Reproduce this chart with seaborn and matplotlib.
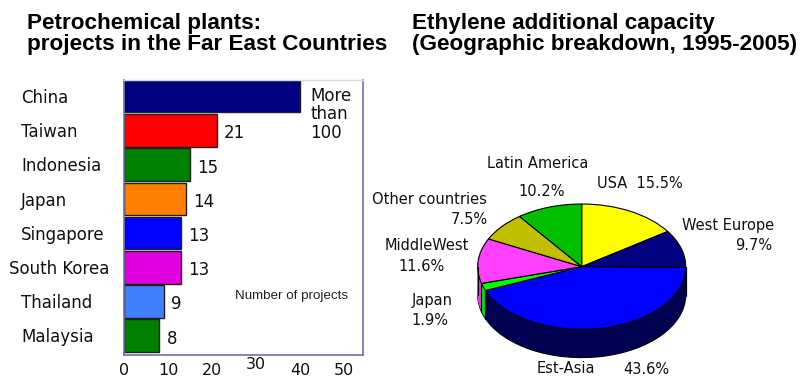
import numpy as np
import pandas as pd
import matplotlib
matplotlib.use("Agg")
import matplotlib.pyplot as plt
import matplotlib.transforms as mtransforms
import seaborn as sns

# ---- data: bar chart ----
countries = ["China", "Taiwan", "Indonesia", "Japan", "Singapore",
             "South Korea", "Thailand", "Malaysia"]
projects = [40, 21, 15, 14, 13, 13, 9, 8]          # China bar drawn at 40
project_labels = ["More\nthan\n100", "21", "15", "14", "13", "13", "9", "8"]
bar_colors = ["#000080", "#FF0000", "#008000", "#FF8000", "#0000FF",
              "#E000E0", "#4080FF", "#008000"]
x_ticks = [0, 10, 20, 30, 40, 50]

# ---- data: pie chart ----
regions = ["USA", "West Europe", "Est-Asia", "Japan", "MiddleWest",
           "Other countries", "Latin America"]
shares = [15.5, 9.7, 43.6, 1.9, 11.6, 7.5, 10.2]
pie_colors = ["#FFFF00", "#000080", "#0000FF", "#00FF00", "#FF40FF",
              "#C0C000", "#00C000"]
side_colors = ["#B0B000", "#000040", "#000050", "#00E000", "#F030F0",
               "#909000", "#009000"]

W, H = 802, 381
sns.set_theme(style="white")
plt.rcParams["font.family"] = ["DejaVu Sans"]
fig = plt.figure(figsize=(W / 100, H / 100), dpi=100)


def fx(px):
    return px / W


def fy(py):
    return 1 - py / H


# ---------------- bar chart ----------------
ax = fig.add_axes([fx(124.3), fy(355), (362.7 - 124.3) / W, 275 / H])
df = pd.DataFrame({"country": countries, "projects": projects})
sns.barplot(data=df, x="projects", y="country", hue="country",
            palette=bar_colors, legend=False, orient="h", width=0.95,
            edgecolor="#202020", linewidth=1.0, ax=ax, saturation=1)
ax.set_xlim(0, 54.2)
ax.set_ylim(7.565, -0.475)
ax.set_xlabel("")
ax.set_ylabel("")
ax.set_xticks(x_ticks)
ax.set_xticklabels([str(t) for t in x_ticks], fontsize=11.5, color="#111111")
ax.tick_params(axis="x", length=0, pad=5.5)
ax.set_yticks(range(len(countries)))
ax.set_yticklabels([])
ax.tick_params(axis="y", length=0)
xt = ax.xaxis.get_major_ticks()
xt[3].set_pad(1.5)
for side in ["left", "bottom", "right"]:
    ax.spines[side].set_color("#7070A8")
    ax.spines[side].set_linewidth(1.2)
ax.spines["top"].set_color("#D8D8D8")
ax.spines["top"].set_linewidth(1.0)

blend = mtransforms.blended_transform_factory(fig.transFigure, ax.transData)
for i, name in enumerate(countries):
    xpos = 9.3 if name == "South Korea" else 21
    ax.text(fx(xpos), i + 0.05, name, transform=blend, ha="left",
            va="center", fontsize=12, color="#111111")

off = mtransforms.offset_copy(ax.transData, fig=fig, x=7, y=-3, units="dots")
for i, (v, lab) in enumerate(zip(projects, project_labels)):
    if i == 0:
        ax.text(v, 0.53, lab, transform=mtransforms.offset_copy(
            ax.transData, fig=fig, x=10, y=0, units="dots"),
            ha="left", va="center", fontsize=12, linespacing=1.05,
            color="#111111")
    else:
        ax.text(v, i, lab, transform=off, ha="left", va="center",
                fontsize=12, color="#111111")

ax.text(0.938, 0.215, "Number of projects", transform=ax.transAxes,
        ha="right", va="center", fontsize=9.6, family="Liberation Sans",
        color="#222222")

# ---------------- pie chart (pseudo 3D) ----------------
axp = fig.add_axes([fx(446.5), fy(367.0), 270.4 / W, 181.8 / H])
depth = 0.45
n_layers = 45
for k in range(n_layers):
    y0 = -depth * (1 - k / (n_layers - 1))
    lw = 0.8 if k == 0 else 0
    axp.pie(shares, colors=side_colors, startangle=90, counterclock=False,
            center=(0, y0), wedgeprops=dict(edgecolor="black", linewidth=lw))
# side edges at slice borders on the visible front side
cum = np.cumsum([0] + shares[:-1])
for c in cum:
    ang = np.deg2rad(90 - 360 * c / 100)
    if np.sin(ang) < 0:
        x = np.cos(ang)
        yb = np.sin(ang)
        axp.plot([x, x], [yb, yb - depth], color="black", lw=0.8)
axp.plot([1, 1], [0, -depth], color="black", lw=0.8)
axp.plot([-1, -1], [0, -depth], color="black", lw=0.8)
axp.pie(shares, colors=pie_colors, startangle=90, counterclock=False,
        center=(0, 0), wedgeprops=dict(edgecolor="black", linewidth=0.8))
axp.set_aspect("auto")
axp.set_xlim(-1.3, 1.3)
axp.set_ylim(-1.6, 1.3)
axp.axis("off")

pct = [f"{s}%" for s in shares]
lab_kw = dict(fontsize=10.5, color="#111111")
fig.text(fx(538), fy(163), regions[6], ha="center", va="center", **lab_kw)
fig.text(fx(541.7), fy(191.7), pct[6], ha="center", va="center", **lab_kw)
fig.text(fx(596.7), fy(184), f"{regions[0]}  {pct[0]}", ha="left",
         va="center", **lab_kw)
fig.text(fx(486.7), fy(199), regions[5], ha="right", va="center", **lab_kw)
fig.text(fx(487.7), fy(219), pct[5], ha="right", va="center", **lab_kw)
fig.text(fx(385), fy(245), regions[4], ha="left", va="center", **lab_kw)
fig.text(fx(398), fy(266.7), pct[4], ha="left", va="center", **lab_kw)
fig.text(fx(411.7), fy(300.7), regions[3], ha="left", va="center", **lab_kw)
fig.text(fx(411.7), fy(320.7), pct[3], ha="left", va="center", **lab_kw)
fig.text(fx(681.7), fy(225.7), regions[1], ha="left", va="center", **lab_kw)
fig.text(fx(772.7), fy(245), pct[1], ha="right", va="center", **lab_kw)
fig.text(fx(536.7), fy(368.5), regions[2], ha="left", va="center", **lab_kw)
fig.text(fx(623), fy(369.5), pct[2], ha="left", va="center", **lab_kw)

# ---------------- titles ----------------
t_kw = dict(fontsize=16.2, fontweight="bold", family="Liberation Sans",
            color="black", va="baseline", ha="left")
fig.text(fx(27), fy(29.3), "Petrochemical plants:", **t_kw)
fig.text(fx(27), fy(50), "projects in the Far East Countries", **t_kw)
fig.text(fx(412), fy(29.3), "Ethylene additional capacity", **t_kw)
fig.text(fx(412), fy(50), "(Geographic breakdown, 1995-2005)", **t_kw)

fig.savefig("out.png", dpi=100)
